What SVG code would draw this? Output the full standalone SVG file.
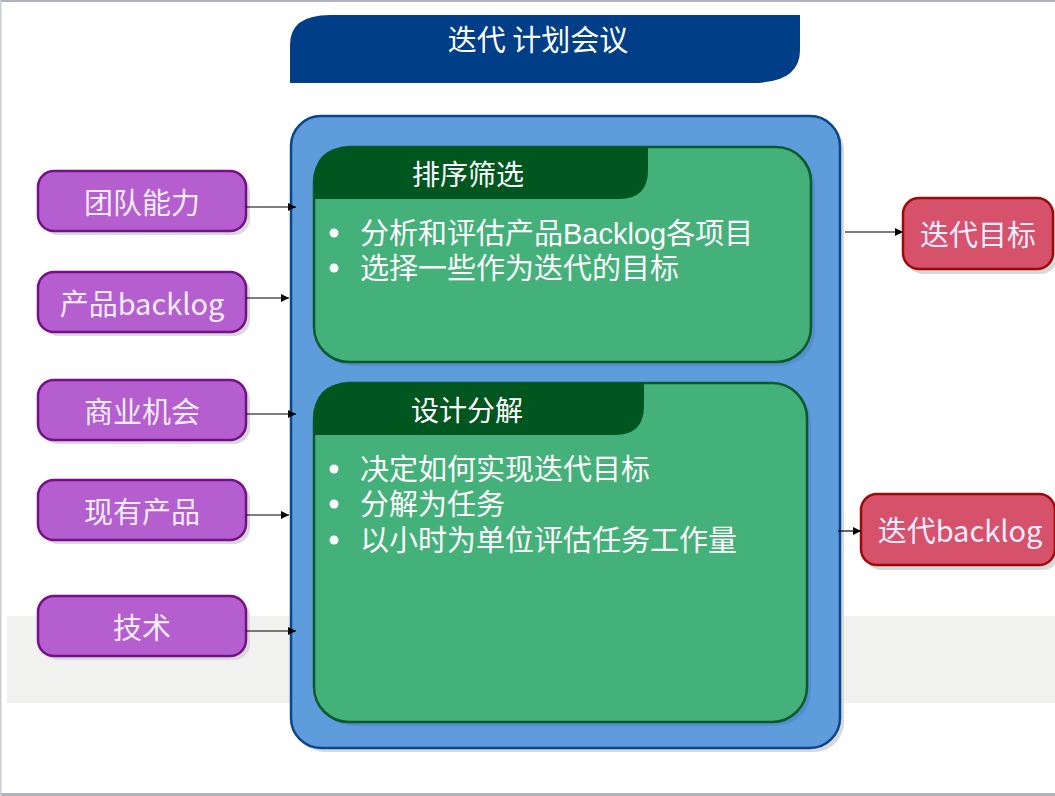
<svg xmlns="http://www.w3.org/2000/svg" width="1055" height="796" viewBox="0 0 1055 796">
<defs>
<marker id="ah" viewBox="0 0 10 10" refX="10" refY="5" markerWidth="9" markerHeight="8" markerUnits="userSpaceOnUse" orient="auto"><path d="M0,0 L10,5 L0,10 z" fill="#000"/></marker>
</defs>
<style>
text{font-family:"Noto Sans CJK SC","Liberation Sans",sans-serif;}
.lbl{font-size:29px;fill:#f4ecff;text-anchor:middle;dominant-baseline:central;}
.hdr{font-size:28px;fill:#ffffff;text-anchor:middle;dominant-baseline:central;}
.bul{font-family:"Liberation Sans","Noto Sans CJK SC",sans-serif;font-size:29px;fill:#ffffff;}
.purple{fill:#b55ecf;stroke:#760f8a;stroke-width:2.5;}
.red{fill:#d6516a;stroke:#9e0a0a;stroke-width:2.5;}
.shd{fill:#d9d9d9;}
.green{fill:#45b17a;stroke:#0b5a2b;stroke-width:2.5;}
.tab{fill:#00561f;}
.conn{stroke:#000;stroke-width:1.2;fill:none;marker-end:url(#ah);}
.dot{fill:#ffffff;}
</style>
<rect x="0" y="0" width="1055" height="796" fill="#ffffff"/>
<rect x="0" y="0" width="1055" height="2" fill="#b0b3bd"/>
<rect x="0" y="793" width="1055" height="3" fill="#b0b3bd"/>
<rect x="0" y="0" width="1.5" height="796" fill="#c9cbd6"/>
<rect x="7" y="616" width="1048" height="87" fill="#f1f1ef"/>

<g id="title">
<path d="M290,83 L290,45 Q290,15 330,15 L800,15 L800,50 Q800,83 752,83 Z" fill="#003f87"/>
<text class="hdr" x="538" y="38" style="font-size:29px">迭代 计划会议</text>
</g>

<g id="container">
<rect x="295" y="120" width="549" height="632" rx="30" class="shd"/>
<rect x="291" y="116" width="549" height="632" rx="30" fill="#5e9cdc" stroke="#0a4690" stroke-width="2.5"/>
</g>

<g id="sort">
<rect x="318" y="151" width="497" height="215" rx="35" fill="#4f86c4" opacity="0.6"/>
<rect x="314" y="147" width="497" height="215" rx="35" class="green"/>
<path d="M314,199 L314,182 Q314,147 349,147 L648,147 L648,170 Q648,199 619,199 Z" class="tab"/>
<text class="hdr" x="468" y="173">排序筛选</text>
<circle class="dot" cx="334" cy="233" r="4.5"/>
<text class="bul" x="360" y="244">分析和评估产品Backlog各项目</text>
<circle class="dot" cx="334" cy="268" r="4.5"/>
<text class="bul" x="360" y="279">选择一些作为迭代的目标</text>
</g>

<g id="design">
<rect x="318" y="387" width="493" height="339" rx="35" fill="#4f86c4" opacity="0.6"/>
<rect x="314" y="383" width="493" height="339" rx="35" class="green"/>
<path d="M314,435 L314,418 Q314,383 349,383 L644,383 L644,406 Q644,435 615,435 Z" class="tab"/>
<text class="hdr" x="467" y="409">设计分解</text>
<circle class="dot" cx="334" cy="469" r="4.5"/>
<text class="bul" x="360" y="480">决定如何实现迭代目标</text>
<circle class="dot" cx="334" cy="504" r="4.5"/>
<text class="bul" x="360" y="515">分解为任务</text>
<circle class="dot" cx="334" cy="540" r="4.5"/>
<text class="bul" x="360" y="551">以小时为单位评估任务工作量</text>
</g>

<g id="team">
<rect x="42" y="175" width="208" height="60" rx="16" class="shd"/>
<rect x="38" y="171" width="208" height="60" rx="16" class="purple"/>
<text class="lbl" x="142" y="201">团队能力</text>
</g>
<g id="backlog">
<rect x="42" y="276" width="208" height="60" rx="16" class="shd"/>
<rect x="38" y="272" width="208" height="60" rx="16" class="purple"/>
<text class="lbl" x="142" y="302">产品backlog</text>
</g>
<g id="business">
<rect x="42" y="384" width="208" height="60" rx="16" class="shd"/>
<rect x="38" y="380" width="208" height="60" rx="16" class="purple"/>
<text class="lbl" x="142" y="410">商业机会</text>
</g>
<g id="existing">
<rect x="42" y="484" width="208" height="60" rx="16" class="shd"/>
<rect x="38" y="480" width="208" height="60" rx="16" class="purple"/>
<text class="lbl" x="142" y="510">现有产品</text>
</g>
<g id="tech">
<rect x="42" y="600" width="208" height="60" rx="16" class="shd"/>
<rect x="38" y="596" width="208" height="60" rx="16" class="purple"/>
<text class="lbl" x="142" y="626">技术</text>
</g>

<g id="goal">
<rect x="907" y="202" width="150" height="72" rx="16" class="shd"/>
<rect x="903" y="198" width="150" height="71" rx="16" class="red"/>
<text class="lbl" x="978" y="233">迭代目标</text>
</g>
<g id="iterbacklog">
<rect x="865" y="498" width="194" height="72" rx="16" class="shd"/>
<rect x="861" y="494" width="194" height="71" rx="16" class="red"/>
<text class="lbl" x="960" y="529">迭代backlog</text>
</g>

<g id="connectors">
<line class="conn" x1="246" y1="207" x2="296" y2="207"/>
<line class="conn" x1="246" y1="298" x2="289" y2="298"/>
<line class="conn" x1="246" y1="414" x2="296" y2="414"/>
<line class="conn" x1="246" y1="515" x2="289" y2="515"/>
<line class="conn" x1="246" y1="631" x2="296" y2="631"/>
<line class="conn" x1="845" y1="232" x2="903" y2="232"/>
<line class="conn" x1="838" y1="531" x2="861" y2="531"/>
</g>
</svg>
